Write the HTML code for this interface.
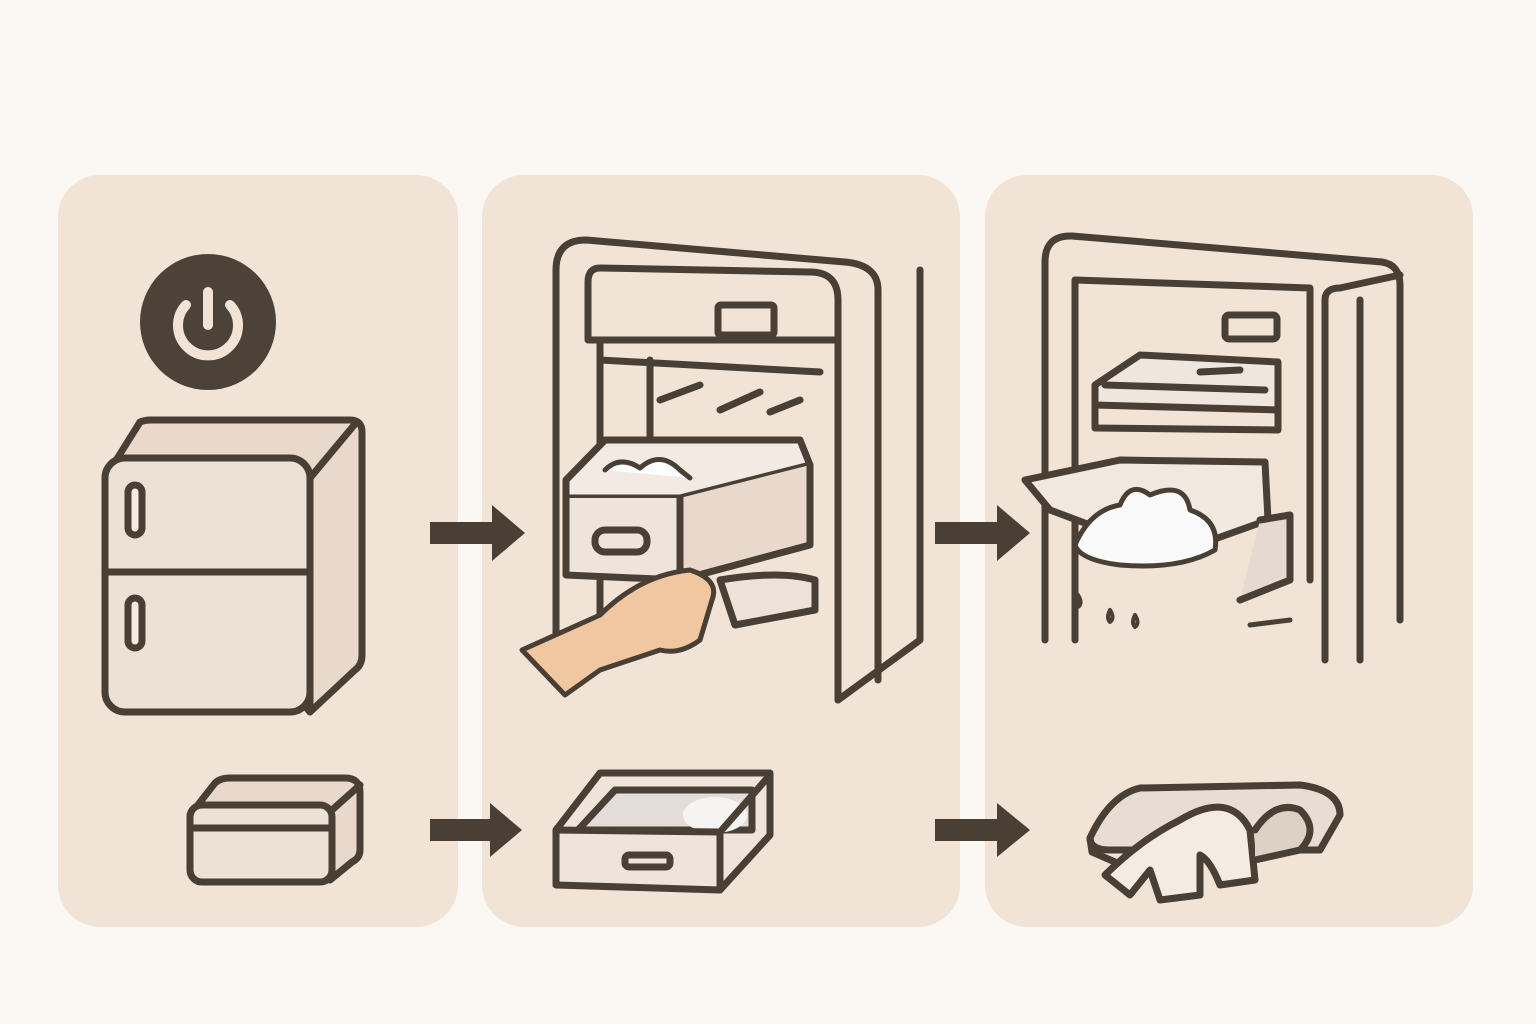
<!DOCTYPE html>
<html><head><meta charset="utf-8"><style>
html,body{margin:0;padding:0;background:#fbf7f3;}
svg{display:block}
</style></head><body>
<svg width="1536" height="1024" viewBox="0 0 1536 1024" xmlns="http://www.w3.org/2000/svg">
<rect width="1536" height="1024" fill="#fbf7f3"/>
<g fill="#f1e3d6">
<rect x="58" y="175" width="400" height="752" rx="42"/>
<rect x="482" y="175" width="478" height="752" rx="42"/>
<rect x="985" y="175" width="488" height="752" rx="42"/>
</g>
<g stroke="#4a3f35" stroke-width="7" stroke-linejoin="round" stroke-linecap="round" fill="none">
<!-- panel1 power -->
<circle cx="208" cy="322" r="68" fill="#4d4238" stroke="none"/>
<path d="M186 305 A30 30 0 1 0 230 305" stroke="#f1e3d6" stroke-width="10"/>
<line x1="208" y1="292" x2="208" y2="325" stroke="#f1e3d6" stroke-width="10"/>
<!-- fridge -->
<path d="M105 478 L140 422 Q145 420 150 420 L350 420 Q362 420 362 432 L362 655 Q362 665 355 670 L310 712 Z" fill="#e8d9cc"/>
<path d="M310 712 L310 478 L105 478" />
<line x1="310" y1="478" x2="355" y2="424"/>
<rect x="105" y="458" width="205" height="254" rx="20" fill="#ede0d5"/>
<line x1="105" y1="572" x2="310" y2="572"/>
<rect x="128" y="485" width="14" height="50" rx="7" fill="#f5ebe2"/>
<rect x="128" y="598" width="14" height="50" rx="7" fill="#f5ebe2"/>
<!-- small box -->
<path d="M190 815 L215 783 Q220 778 230 778 L345 778 Q360 778 360 792 L360 850 Q360 858 352 862 L330 880" fill="#e8d9cc"/>
<rect x="190" y="805" width="142" height="77" rx="12" fill="#ede0d5"/>
<line x1="190" y1="828" x2="332" y2="828"/>
<line x1="332" y1="810" x2="360" y2="785"/>
</g>
<!-- arrows -->
<g fill="#4a3f35">
<path d="M430 522 L492 522 L492 505 L525 533 L492 561 L492 544 L430 544 Z"/>
<path d="M430 819 L490 819 L490 803 L522 830 L490 857 L490 841 L430 841 Z"/>
<path d="M935 522 L997 522 L997 505 L1030 533 L997 561 L997 544 L935 544 Z"/>
<path d="M935 819 L997 819 L997 803 L1030 830 L997 857 L997 841 L935 841 Z"/>
</g>
<g stroke="#4a3f35" stroke-width="7" stroke-linejoin="round" stroke-linecap="round" fill="none">
<!-- panel2 fridge -->
<path d="M556 640 L556 270 Q556 240 586 240 L845 262 Q878 265 878 290 L878 680" />
<path d="M838 700 L838 300 Q838 272 810 272 L600 268 Q588 268 588 282 L588 340 L838 340"/>
<path d="M920 270 L920 640 L838 700"/>
<rect x="718" y="305" width="56" height="30" rx="3"/>
<path d="M600 340 L600 640 M650 360 L650 440 M600 360 L820 372"/>
<path d="M660 400 L700 385 M720 410 L760 392 M770 412 L800 400"/>
<!-- drawer -->
<path d="M566 480 L605 440 L800 440 L810 465 L680 498 L566 498 Z" fill="#f3ebe3"/>
<path d="M605 470 Q620 455 640 468 Q660 450 680 470 L690 478" fill="#fff" stroke-width="5"/>
<path d="M566 498 L566 575 L680 580 L680 498" fill="#efe4da"/>
<path d="M680 498 L680 580 L810 545 L810 465" fill="#e8d9cc"/>
<rect x="595" y="530" width="52" height="22" rx="10"/>
<path d="M720 580 Q780 570 815 580 L815 610 L735 625 Z" fill="#eee2d8"/>
<!-- hand -->
<path d="M522 650 L600 615 Q640 575 690 570 Q720 580 712 600 L700 640 Q680 655 660 650 L600 670 L565 695 Z" fill="#f0c7a1" stroke-width="5"/>
<!-- panel2 bottom tray -->
<path d="M556 830 L600 773 L770 773 L770 835 L720 890 L556 885 Z" fill="#efe4da"/>
<path d="M578 830 L615 790 L752 790 L752 830 Z" fill="#e3dcd8"/>
<ellipse cx="715" cy="815" rx="32" ry="18" fill="#f6f4f2" stroke="none"/>
<path d="M556 830 L720 832 L770 775 M720 832 L720 890"/>
<rect x="625" y="855" width="45" height="12" rx="4"/>
<!-- panel3 fridge -->
<path d="M1045 640 L1045 262 Q1045 235 1072 236 L1382 262 Q1400 265 1400 285 L1400 620"/>
<path d="M1075 640 L1075 280 L1310 288 L1310 580"/>
<path d="M1325 660 L1325 300 Q1325 288 1340 288 L1400 275"/>
<path d="M1360 300 L1360 660"/>
<rect x="1225" y="315" width="52" height="24" rx="4"/>
<path d="M1095 385 L1140 355 L1278 362 L1278 410 L1095 405 Z" fill="#efe6de"/>
<path d="M1105 385 L1265 390 M1200 372 L1240 370"/>
<path d="M1095 405 L1095 428 L1278 430 L1278 410"/>
<!-- drawer out -->
<path d="M1025 480 L1120 460 L1265 462 L1268 520 L1170 555 L1050 510 Z" fill="#f1e8e0"/>
<path d="M1075 545 Q1090 510 1120 505 Q1130 480 1150 495 Q1185 480 1190 510 Q1220 520 1215 550 Q1180 570 1120 565 Q1080 560 1075 545 Z" fill="#fafafa" stroke-width="5"/>
<path d="M1260 520 L1290 515 L1290 580 L1240 600" fill="#e6dad0"/>
<path d="M1078 595 q-4 8 0 12 q5 -4 0 -12 M1110 610 q-4 8 0 12 q5 -4 0 -12 M1135 615 q-4 8 0 12 q5 -4 0 -12" stroke-width="4"/>
<path d="M1250 625 L1290 620" stroke-width="5"/>
<!-- cloth -->
<path d="M1090 838 Q1110 795 1140 788 L1300 785 Q1340 790 1340 815 L1320 850 L1110 850 Q1090 850 1090 838 Z" fill="#e8ddd2"/>
<path d="M1090 838 L1092 852 L1115 862"/>
<path d="M1105 875 Q1140 840 1180 820 Q1230 790 1250 830 L1255 880 L1220 885 Q1210 860 1200 855 L1200 895 L1160 900 L1150 870 L1130 895 Z" fill="#f4ece3"/>
<path d="M1255 830 Q1275 800 1300 810 Q1320 830 1300 850 L1255 860" fill="#ddd0c4"/>
</g>
</svg>
</body></html>
